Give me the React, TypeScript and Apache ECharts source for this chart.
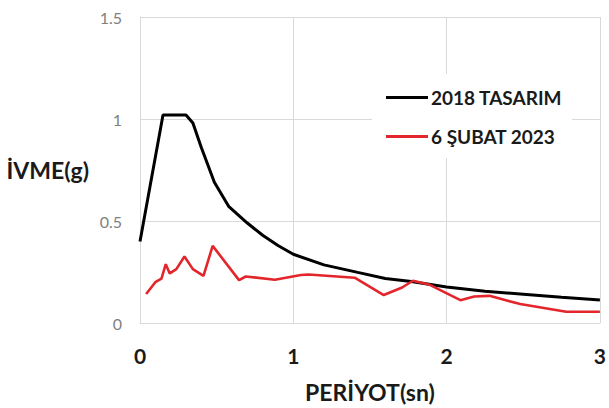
import React, { useEffect, useRef } from "react";
import * as echarts from "echarts";

const seriesNames = ["2018 TASARIM", "6 ŞUBAT 2023"];

// [period (s), acceleration (g)]
const designSpectrum: [number, number][] = [
  [0, 0.4], [0.15, 1.02], [0.3, 1.02], [0.345, 0.98], [0.4, 0.86], [0.485, 0.69],
  [0.58, 0.57], [0.7, 0.49], [0.8, 0.43], [0.9, 0.38], [1.0, 0.337],
  [1.2, 0.285], [1.42, 0.248], [1.6, 0.218], [1.77, 0.203], [2.0, 0.176],
  [2.25, 0.156], [2.5, 0.141], [2.75, 0.126], [3.0, 0.113],
];

const recordSpectrum: [number, number][] = [
  [0.04, 0.142], [0.1, 0.2], [0.14, 0.218], [0.168, 0.288], [0.194, 0.243],
  [0.237, 0.264], [0.29, 0.326], [0.345, 0.264], [0.414, 0.231], [0.474, 0.378],
  [0.646, 0.21], [0.69, 0.228], [0.88, 0.212], [1.05, 0.235], [1.1, 0.238],
  [1.4, 0.222], [1.59, 0.137], [1.71, 0.174], [1.78, 0.207], [1.89, 0.187],
  [2.09, 0.112], [2.18, 0.13], [2.28, 0.133], [2.48, 0.093], [2.78, 0.055],
  [3.0, 0.055],
];

const FONT = "Lato";

export default function App() {
  const ref = useRef<HTMLDivElement>(null);
  useEffect(() => {
    if (!ref.current) return;
    const chart = echarts.init(ref.current, undefined, { renderer: "svg" });
    chart.setOption({
      animation: false,
      backgroundColor: "#ffffff",
      textStyle: { fontFamily: FONT },
      grid: { left: 140, right: 5, top: 17, bottom: 84, containLabel: false },
      legend: {
        orient: "vertical",
        left: 372,
        top: 74,
        backgroundColor: "#ffffff",
        padding: [14, 10, 12, 14],
        itemGap: 20,
        itemWidth: 42,
        itemHeight: 3,
        icon: "rect",
        textStyle: { fontFamily: FONT, fontWeight: "bold", fontSize: 19, color: "#1a1a1a", padding: [0, 0, 0, -2] },
        data: seriesNames,
      },
      xAxis: {
        type: "value",
        min: 0,
        max: 3,
        interval: 1,
        name: "PERİYOT(sn)",
        nameLocation: "middle",
        nameGap: 57,
        nameTextStyle: { fontFamily: FONT, fontWeight: "bold", fontSize: 23, color: "#1a1a1a" },
        axisLine: { show: true, lineStyle: { color: "#d9d9d9", width: 1 } },
        axisTick: { show: false },
        splitLine: { show: true, lineStyle: { color: "#d9d9d9", width: 1 } },
        axisLabel: { margin: 22, fontFamily: FONT, fontWeight: "bold", fontSize: 21, color: "#1a1a1a" },
      },
      yAxis: {
        type: "value",
        min: 0,
        max: 1.5,
        interval: 0.5,
        name: "İVME(g)",
        nameLocation: "middle",
        nameRotate: 0,
        nameGap: 51,
        nameTextStyle: { fontFamily: FONT, fontWeight: "bold", fontSize: 23, color: "#1a1a1a", padding: [12, 0, 0, 0] },
        axisLine: { show: true, lineStyle: { color: "#d9d9d9", width: 1 } },
        axisTick: { show: false },
        splitLine: { show: true, lineStyle: { color: "#d9d9d9", width: 1 } },
        axisLabel: { margin: 18, fontFamily: FONT, fontSize: 16, color: "#808080" },
      },
      series: [
        {
          name: seriesNames[0],
          type: "line",
          data: designSpectrum,
          showSymbol: false,
          symbol: "none",
          lineStyle: { color: "#000000", width: 3 },
          itemStyle: { color: "#000000" },
          z: 2,
        },
        {
          name: seriesNames[1],
          type: "line",
          data: recordSpectrum,
          showSymbol: false,
          symbol: "none",
          lineStyle: { color: "#e3262b", width: 2.6 },
          itemStyle: { color: "#e3262b" },
          z: 3,
        },
      ],
    });
    return () => chart.dispose();
  }, []);
  return <div ref={ref} style={{ width: 609, height: 408, position: "absolute", left: 0, top: 0 }} />;
}
